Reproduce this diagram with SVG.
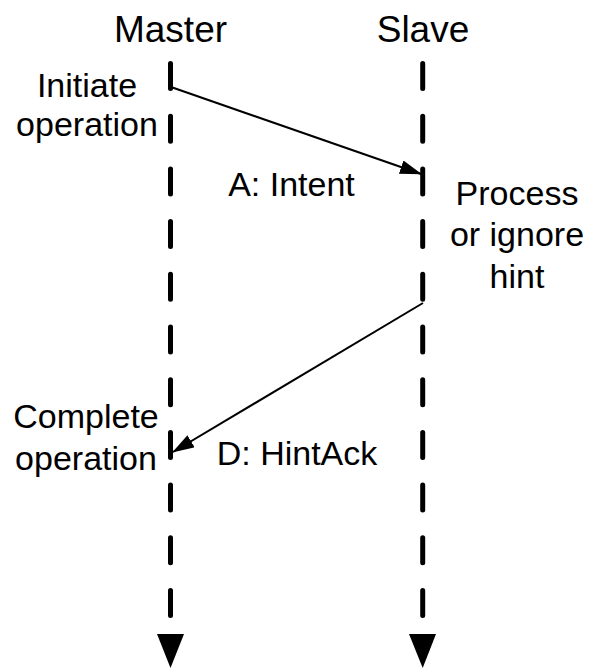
<svg xmlns="http://www.w3.org/2000/svg" width="592" height="669" viewBox="0 0 592 669">
<style>
text{font-family:"Liberation Sans",Arial,Helvetica,sans-serif;fill:#000;text-anchor:middle}
.title{font-size:37px}
.lbl{font-size:34px}
.life{stroke:#000;stroke-width:5;stroke-linecap:round;stroke-dasharray:25 27.7;fill:none}
.msg{stroke:#000;stroke-width:2;fill:none}
</style>
<defs>
<marker id="ah" markerUnits="userSpaceOnUse" markerWidth="24" markerHeight="16" refX="21" refY="7" orient="auto" viewBox="0 0 24 16">
<path d="M0,0 L22,7 L0,14 Z" fill="#000"/>
</marker>
</defs>
<rect width="592" height="669" fill="#fff"/>
<g id="master">
<text class="title" x="170.5" y="42">Master</text>
<line class="life" x1="170.5" y1="63.5" x2="170.5" y2="617"/>
<path d="M157,634 L184,634 L170.5,668 Z" fill="#000"/>
</g>
<g id="slave">
<text class="title" x="423" y="42">Slave</text>
<line class="life" x1="422.7" y1="63.5" x2="422.7" y2="617"/>
<path d="M409,634 L436,634 L422.7,668 Z" fill="#000"/>
</g>
<g id="note-initiate">
<text class="lbl" x="87" y="97">Initiate</text>
<text class="lbl" x="87" y="136">operation</text>
</g>
<g id="note-process">
<text class="lbl" x="517" y="205">Process</text>
<text class="lbl" x="517" y="246">or ignore</text>
<text class="lbl" x="517" y="288">hint</text>
</g>
<g id="note-complete">
<text class="lbl" x="86" y="428">Complete</text>
<text class="lbl" x="86" y="470">operation</text>
</g>
<g id="connectors">
<line class="msg" x1="171" y1="87" x2="421" y2="174" marker-end="url(#ah)"/>
<text class="lbl" x="291.5" y="196">A: Intent</text>
<line class="msg" x1="423" y1="303" x2="173" y2="452" marker-end="url(#ah)"/>
<text class="lbl" x="297" y="465">D: HintAck</text>
</g>
</svg>
